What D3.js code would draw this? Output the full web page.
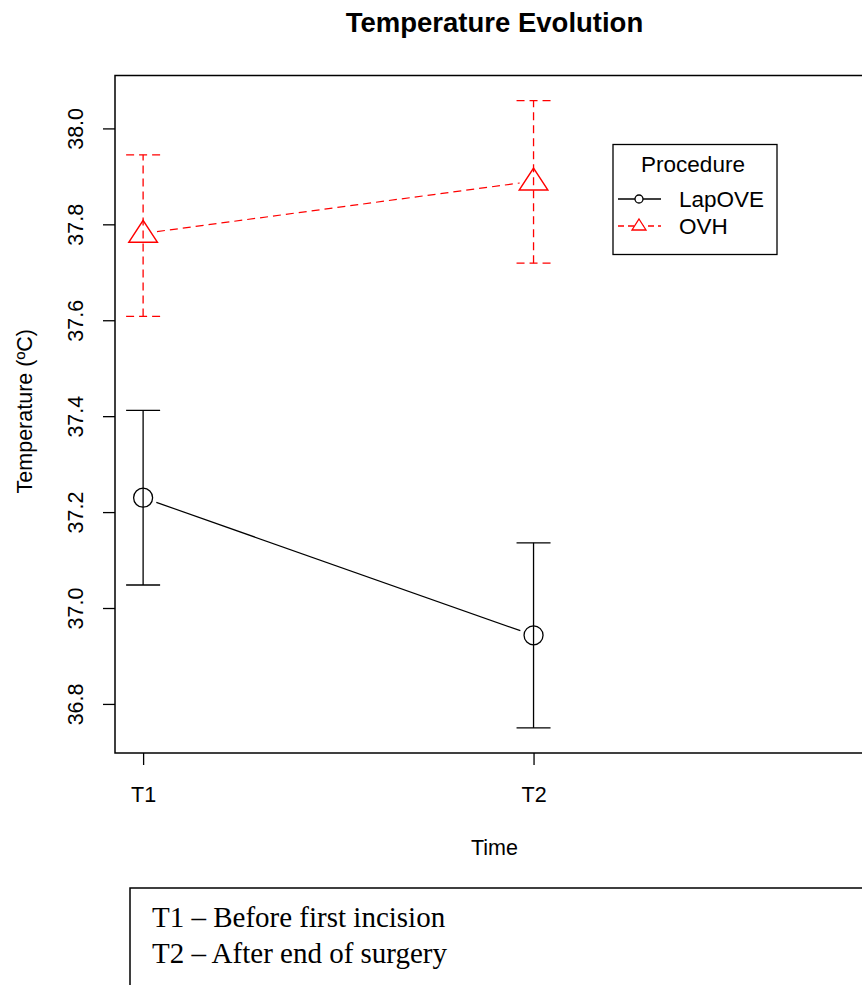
<!DOCTYPE html>
<html>
<head>
<meta charset="utf-8">
<script src="https://cdn.jsdelivr.net/npm/d3@7"></script>
<style>
  body { margin: 0; background: #fff; }
  svg { display: block; font-family: "Liberation Sans", Arial, sans-serif; }
</style>
</head>
<body>
<div id="wrapper"></div>
<script>
// data
const times = ["T1", "T2"];
const groups = ["LapOVE", "OVH"];
const lapMean = [37.23, 36.943];
const lapLow = [37.048, 36.75];
const lapHigh = [37.412, 37.136];
const ovhMean = [37.781, 37.89];
const ovhLow = [37.608, 37.719];
const ovhHigh = [37.945, 38.058];
const yTicks = [36.8, 37.0, 37.2, 37.4, 37.6, 37.8, 38.0];
const notes = ["T1 \u2013 Before first incision", "T2 \u2013 After end of surgery"];

const width = 862, height = 985;
const plot = { left: 115, right: 874, top: 75.5, bottom: 753 };
const axisFont = "21.5px";

const series = [
  { name: groups[0], mean: lapMean, low: lapLow, high: lapHigh, color: "#000", dash: null, shape: "circle" },
  { name: groups[1], mean: ovhMean, low: ovhLow, high: ovhHigh, color: "#ff0000", dash: "8,5", shape: "triangle" }
];

// R style 4% axis extension
function extend(lo, hi) { const d = (hi - lo) * 0.04; return [lo - d, hi + d]; }
const yMin = d3.min(series, s => d3.min(s.low)), yMax = d3.max(series, s => d3.max(s.high));

const x = d3.scaleLinear().domain(extend(1, 2.8)).range([plot.left, plot.right]);
const y = d3.scaleLinear().domain(extend(yMin, yMax)).range([plot.bottom, plot.top]);

const svg = d3.select("#wrapper").append("svg")
  .attr("width", width).attr("height", height);

// title
svg.append("text")
  .attr("x", (plot.left + plot.right) / 2).attr("y", 32)
  .attr("text-anchor", "middle")
  .style("font-weight", "bold").style("font-size", "27.5px")
  .text("Temperature Evolution");

// plot box
svg.append("rect")
  .attr("x", plot.left).attr("y", plot.top)
  .attr("width", plot.right - plot.left).attr("height", plot.bottom - plot.top)
  .attr("fill", "none").attr("stroke", "#000").attr("stroke-width", 1.5);

// y axis
const yAxis = svg.append("g")
  .attr("transform", `translate(${plot.left},0)`)
  .call(d3.axisLeft(y).tickValues(yTicks).tickSize(12).tickFormat(d3.format(".1f")));
yAxis.select(".domain").remove();
yAxis.selectAll(".tick line").attr("stroke", "#000").attr("stroke-width", 1.3);
yAxis.selectAll(".tick text")
  .attr("x", null).attr("dy", null)
  .attr("transform", "translate(-32,0) rotate(-90)")
  .attr("text-anchor", "middle")
  .style("font-size", axisFont).style("font-family", "Liberation Sans, Arial, sans-serif")
  .attr("fill", "#000");

// x axis
const xAxis = svg.append("g")
  .attr("transform", `translate(0,${plot.bottom})`)
  .call(d3.axisBottom(x).tickValues([1, 2]).tickSize(12).tickFormat(d => times[d - 1]));
xAxis.select(".domain").remove();
xAxis.selectAll(".tick line").attr("stroke", "#000").attr("stroke-width", 1.3);
xAxis.selectAll(".tick text")
  .attr("y", 49).attr("dy", null)
  .style("font-size", axisFont).style("font-family", "Liberation Sans, Arial, sans-serif")
  .attr("fill", "#000");

// axis titles
svg.append("text")
  .attr("x", (plot.left + plot.right) / 2).attr("y", 855)
  .attr("text-anchor", "middle").style("font-size", axisFont)
  .text("Time");
svg.append("text")
  .attr("transform", `translate(31.5,${(plot.top + plot.bottom) / 2 - 3}) rotate(-90)`)
  .attr("text-anchor", "middle").style("font-size", axisFont)
  .text("Temperature (\u00baC)");

const capHalf = 17, gap = 14;

function marker(g, shape, cx, cy, size, color) {
  if (shape === "circle") {
    g.append("circle").attr("cx", cx).attr("cy", cy).attr("r", size)
      .attr("fill", "none").attr("stroke", color).attr("stroke-width", 1.3);
  } else {
    const h = size * 2.3, w = size * 3;
    g.append("path")
      .attr("d", `M${cx},${cy - h * 0.6}L${cx + w / 2},${cy + h * 0.4}L${cx - w / 2},${cy + h * 0.4}Z`)
      .attr("fill", "none").attr("stroke", color).attr("stroke-width", 1.5);
  }
}

series.forEach(s => {
  const g = svg.append("g");
  const pts = s.mean.map((m, i) => [x(i + 1), y(m)]);

  // error bars
  s.mean.forEach((m, i) => {
    const cx = x(i + 1);
    g.append("line").attr("x1", cx).attr("x2", cx).attr("y1", y(s.low[i])).attr("y2", y(s.high[i]))
      .attr("stroke", s.color).attr("stroke-width", 1.3).attr("stroke-dasharray", s.dash);
    [s.low[i], s.high[i]].forEach(v => {
      g.append("line").attr("x1", cx - capHalf).attr("x2", cx + capHalf).attr("y1", y(v)).attr("y2", y(v))
        .attr("stroke", s.color).attr("stroke-width", 1.3).attr("stroke-dasharray", s.dash);
    });
  });

  // connecting line with gaps around points
  const [p0, p1] = pts;
  const len = Math.hypot(p1[0] - p0[0], p1[1] - p0[1]);
  const ux = (p1[0] - p0[0]) / len, uy = (p1[1] - p0[1]) / len;
  g.append("line")
    .attr("x1", p0[0] + ux * gap).attr("y1", p0[1] + uy * gap)
    .attr("x2", p1[0] - ux * gap).attr("y2", p1[1] - uy * gap)
    .attr("stroke", s.color).attr("stroke-width", 1.2).attr("stroke-dasharray", s.dash);

  pts.forEach(p => marker(g, s.shape, p[0], p[1], 9.5, s.color));
});

// legend
const lg = svg.append("g").attr("transform", "translate(613,144.5)");
lg.append("rect").attr("width", 164).attr("height", 110)
  .attr("fill", "#fff").attr("stroke", "#000").attr("stroke-width", 1.3);
lg.append("text").attr("x", 80).attr("y", 27).attr("text-anchor", "middle")
  .style("font-size", "22.5px").text("Procedure");
series.forEach((s, i) => {
  const ly = 54.5 + i * 27;
  lg.append("line").attr("x1", 5).attr("x2", 48).attr("y1", ly).attr("y2", ly)
    .attr("stroke", s.color).attr("stroke-width", 1.3).attr("stroke-dasharray", s.dash ? "6,4" : null);
  if (s.shape === "circle") {
    lg.append("circle").attr("cx", 26).attr("cy", ly).attr("r", 4)
      .attr("fill", "#fff").attr("stroke", s.color).attr("stroke-width", 1.3);
  } else {
    lg.append("path").attr("d", `M26,${ly - 7}L33,${ly + 4}L19,${ly + 4}Z`)
      .attr("fill", "#fff").attr("stroke", s.color).attr("stroke-width", 1.3);
  }
  lg.append("text").attr("x", 66).attr("y", ly + 8)
    .style("font-size", "22.5px").text(s.name);
});

// note box below the chart
const nb = svg.append("g").attr("transform", "translate(130,888)");
nb.append("rect").attr("width", 760).attr("height", 120)
  .attr("fill", "none").attr("stroke", "#000").attr("stroke-width", 1.5);
nb.selectAll("text.note").data(notes).enter().append("text")
  .attr("class", "note")
  .attr("x", 22).attr("y", (d, i) => 39 + i * 36)
  .style("font-family", "Liberation Serif, 'Times New Roman', serif")
  .style("font-size", "29px")
  .text(d => d);
</script>
</body>
</html>
